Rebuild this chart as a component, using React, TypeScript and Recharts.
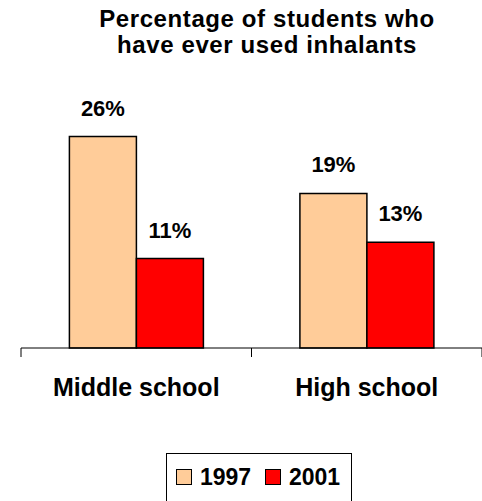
import React from "react";
import { BarChart, Bar, XAxis, YAxis, LabelList } from "recharts";

const categories = ["Middle school", "High school"];
const values1997 = [26, 19];
const values2001 = [11, 13];
const seriesNames = ["1997", "2001"];
const seriesColors = ["#FFCC99", "#FF0000"];

const data = categories.map((name, i) => ({
  name,
  y1997: values1997[i],
  y2001: values2001[i],
}));

const W = 482;
const H = 501;
const margin = { top: 104, right: 0, left: 21, bottom: 93 };
const band = (W - margin.left - margin.right) / categories.length;
const font = "Arial, 'Liberation Sans', Helvetica, sans-serif";

function CategoryTick(props: any) {
  const { x, y, payload, index } = props;
  return (
    <g>
      <line x1={x - band / 2} x2={x - band / 2} y1={y} y2={y + 9} stroke="#000" />
      {index === categories.length - 1 && (
        <line x1={x + band / 2} x2={x + band / 2} y1={y} y2={y + 9} stroke="#000" />
      )}
      <text
        x={x}
        y={y + 48}
        textAnchor="middle"
        fontSize={25}
        fontWeight="bold"
        fontFamily={font}
        fill="#000"
      >
        {payload.value}
      </text>
    </g>
  );
}

export default function App() {
  return (
    <div style={{ position: "absolute", left: 0, top: 0, width: W, height: H, background: "#fff", fontFamily: font }}>
      <div
        style={{
          position: "absolute",
          left: 0,
          width: 534,
          top: 6,
          textAlign: "center",
          fontSize: 24,
          lineHeight: "26px",
          fontWeight: "bold",
          letterSpacing: 0.6,
          color: "#000",
        }}
      >
        Percentage of students who
        <br />
        have ever used inhalants
      </div>
      <BarChart width={W} height={H} data={data} margin={margin} barCategoryGap="21%" barGap={0}>
        <XAxis
          dataKey="name"
          axisLine={{ stroke: "#000" }}
          tickLine={false}
          tickSize={0}
          tickMargin={0}
          height={60}
          tick={<CategoryTick />}
          interval={0}
        />
        <YAxis hide domain={[0, 30]} />
        <Bar dataKey="y1997" fill={seriesColors[0]} stroke="#000" strokeWidth={1.5} isAnimationActive={false}>
          <LabelList
            dataKey="y1997"
            position="top"
            offset={21}
            formatter={(v: any) => `${v}%`}
            fill="#000"
            fontSize={22}
            fontWeight="bold"
            fontFamily={font}
          />
        </Bar>
        <Bar dataKey="y2001" fill={seriesColors[1]} stroke="#000" strokeWidth={1.5} isAnimationActive={false}>
          <LabelList
            dataKey="y2001"
            position="top"
            offset={21}
            formatter={(v: any) => `${v}%`}
            fill="#000"
            fontSize={22}
            fontWeight="bold"
            fontFamily={font}
          />
        </Bar>
      </BarChart>
      <div
        style={{
          position: "absolute",
          left: 166,
          top: 453,
          width: 186,
          height: 60,
          border: "1px solid #000",
          boxSizing: "border-box",
        }}
      >
        {seriesNames.map((s, i) => (
          <div
            key={s}
            style={{
              position: "absolute",
              left: i === 0 ? 9 : 98,
              top: 8,
              display: "flex",
              alignItems: "center",
              fontSize: 23,
              fontWeight: "bold",
              lineHeight: "30px",
            }}
          >
            <span
              style={{
                display: "inline-block",
                width: 14,
                height: 14,
                background: seriesColors[i],
                border: "1px solid #000",
                marginRight: 8,
              }}
            />
            {s}
          </div>
        ))}
      </div>
    </div>
  );
}
